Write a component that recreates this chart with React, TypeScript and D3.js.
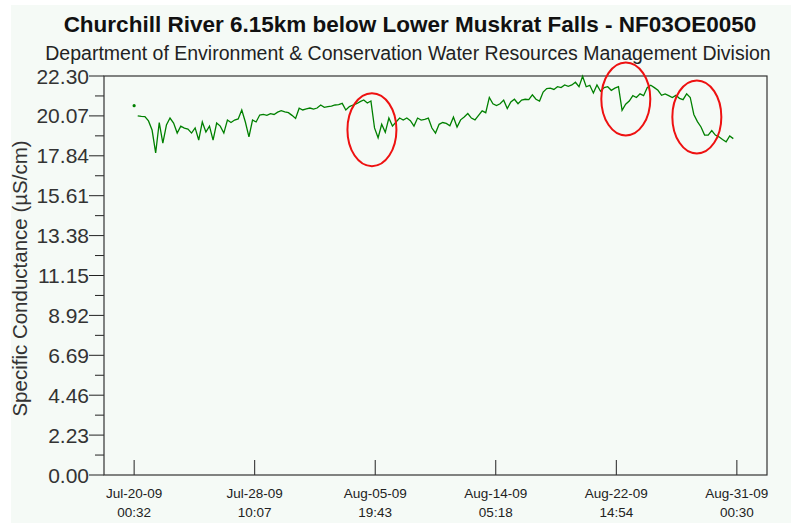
import React from "react";
import * as d3 from "d3";

const title = "Churchill River 6.15km below Lower Muskrat Falls - NF03OE0050";
const subtitle = "Department of Environment & Conservation Water Resources Management Division";
const yTitle = "Specific Conductance (µS/cm)";

const tickDates = ["Jul-20-09", "Jul-28-09", "Aug-05-09", "Aug-14-09", "Aug-22-09", "Aug-31-09"];
const tickTimes = ["00:32", "10:07", "19:43", "05:18", "14:54", "00:30"];
const yTicks = [0, 2.23, 4.46, 6.69, 8.92, 11.15, 13.38, 15.61, 17.84, 20.07, 22.3];

// first reading stands alone, then one reading every 6 hours
const firstReading = 20.64;
const stepHours = 6;
const conductance = [
  20.07, 20.04, 20.03, 19.79, 19.28, 18.0, 19.7, 18.55, 19.56, 19.95,
  19.67, 19.11, 19.5, 19.39, 19.33, 19.11, 19.4, 18.72, 19.73, 19.17,
  19.5, 18.72, 19.67, 19.5, 19.11, 19.84, 19.7, 19.84, 19.9, 20.4,
  19.73, 18.9, 19.84, 19.73, 20.12, 20.15, 20.1, 20.2, 20.15, 20.28,
  20.36, 20.3, 20.25, 20.1, 19.93, 20.5, 20.4, 20.46, 20.51, 20.45,
  20.51, 20.68, 20.55, 20.59, 20.62, 20.68, 20.7, 20.77, 20.4, 20.59,
  20.68, 20.75, 20.87, 20.96, 20.79, 20.9, 19.4, 18.85, 19.6, 19.15,
  19.95, 19.5, 19.73, 19.95, 19.84, 19.95, 19.8, 19.5, 19.95, 19.84,
  19.88, 19.95, 19.39, 19.11, 19.6, 19.7, 19.65, 19.52, 20.0, 19.45,
  19.85, 20.01, 20.2, 19.95, 19.85, 20.1, 20.35, 20.25, 21.1, 20.75,
  20.65, 20.75, 20.95, 20.48, 20.85, 21.0, 20.75, 20.95, 21.0, 20.98,
  21.25, 21.0, 20.9, 21.4, 21.6, 21.62, 21.55, 21.7, 21.65, 21.8,
  21.72, 21.8, 21.95, 21.7, 22.28, 21.7, 21.78, 21.35, 21.8, 21.45,
  21.65, 21.7, 21.5, 21.62, 21.7, 20.38, 20.72, 20.9, 21.2, 21.1,
  21.3, 21.2, 21.65, 21.78, 21.65, 21.5, 21.22, 21.3, 21.2, 21.1,
  21.22, 21.05, 20.98, 21.3, 21.1, 20.15, 19.75, 19.45, 19.0, 19.0,
  19.25, 19.0, 18.9, 18.75, 18.62, 18.95, 18.8,
];

// red circles drawn on the chart
const noteAt = ["Aug-05-09 14:13", "Aug-23-09 06:46", "Aug-28-09 05:34"];
const noteLevel = [19.3, 21.02, 20.01];

const W = 791;
const H = 523;
const m = { left: 104, right: 24, top: 76, bottom: 48 };
const bg = "#f5faf6";
const font = "'Liberation Sans', Arial, sans-serif";

const parse = d3.utcParse("%b-%d-%y %H:%M");

export default function App() {
  const ticks = tickDates.map((d, i) => parse(d + " " + tickTimes[i]) as Date);
  const start = ticks[0];
  const end = ticks[ticks.length - 1];
  const pad = (end.getTime() - start.getTime()) * 0.05;

  const x = d3
    .scaleUtc()
    .domain([new Date(start.getTime() - pad), new Date(end.getTime() + pad)])
    .range([m.left, W - m.right]);
  const y = d3.scaleLinear().domain([0, 22.3]).range([H - m.bottom, m.top]);

  const series = conductance.map((v, i) => ({
    t: d3.utcHour.offset(start, (i + 1) * stepHours),
    v,
  }));

  const line = d3
    .line<{ t: Date; v: number }>()
    .x((d) => x(d.t))
    .y((d) => y(d.v));

  const minorTicks = yTicks.slice(1).map((t, i) => (t + yTicks[i]) / 2);
  const x0 = m.left;
  const x1 = W - m.right;
  const y0 = H - m.bottom;
  const y1 = m.top;

  return (
    <div style={{ position: "fixed", left: 0, top: 0 }}>
      <svg width={W} height={H} style={{ display: "block", background: "#fff" }} fontFamily={font}>
        <rect x={11} y={5} width={W - 11} height={H - 5} fill={bg} />
        <text x={410} y={31.5} textAnchor="middle" fontSize={22.5} fontWeight="bold" fill="#111">
          {title}
        </text>
        <text x={408} y={60} textAnchor="middle" fontSize={19.5} fill="#222">
          {subtitle}
        </text>

        <text
          transform={`translate(27,${(y0 + y1) / 2 + 3}) rotate(-90)`}
          textAnchor="middle"
          fontSize={20.5}
          fill="#333"
        >
          {yTitle}
        </text>

        {yTicks.map((t) => (
          <g key={t}>
            <line x1={x0 - 15} x2={x0} y1={y(t)} y2={y(t)} stroke="#222" />
            <text x={x0 - 15} y={y(t)} dy="0.36em" textAnchor="end" fontSize={21} fill="#333">
              {t.toFixed(2)}
            </text>
          </g>
        ))}
        {minorTicks.map((t) => (
          <line key={t} x1={x0 - 9} x2={x0} y1={y(t)} y2={y(t)} stroke="#222" />
        ))}

        {ticks.map((t, i) => (
          <g key={i}>
            <line x1={x(t)} x2={x(t)} y1={y0} y2={y0 - 15} stroke="#222" />
            <text x={x(t)} y={498} textAnchor="middle" fontSize={13.5} fill="#222">
              {tickDates[i]}
            </text>
            <text x={x(t)} y={517} textAnchor="middle" fontSize={13.5} fill="#222">
              {tickTimes[i]}
            </text>
          </g>
        ))}

        <rect x={x0} y={y1} width={x1 - x0} height={y0 - y1} fill="none" stroke="#333" strokeWidth={1.2} />

        <circle cx={x(start)} cy={y(firstReading)} r={1.6} fill="#008000" />
        <path d={line(series) || ""} fill="none" stroke="#008000" strokeWidth={1.3} />

        {noteAt.map((s, i) => (
          <ellipse
            key={s}
            cx={x(parse(s) as Date)}
            cy={y(noteLevel[i])}
            rx={24.5}
            ry={36.5}
            fill="none"
            stroke="#ee1111"
            strokeWidth={2}
          />
        ))}
      </svg>
    </div>
  );
}
